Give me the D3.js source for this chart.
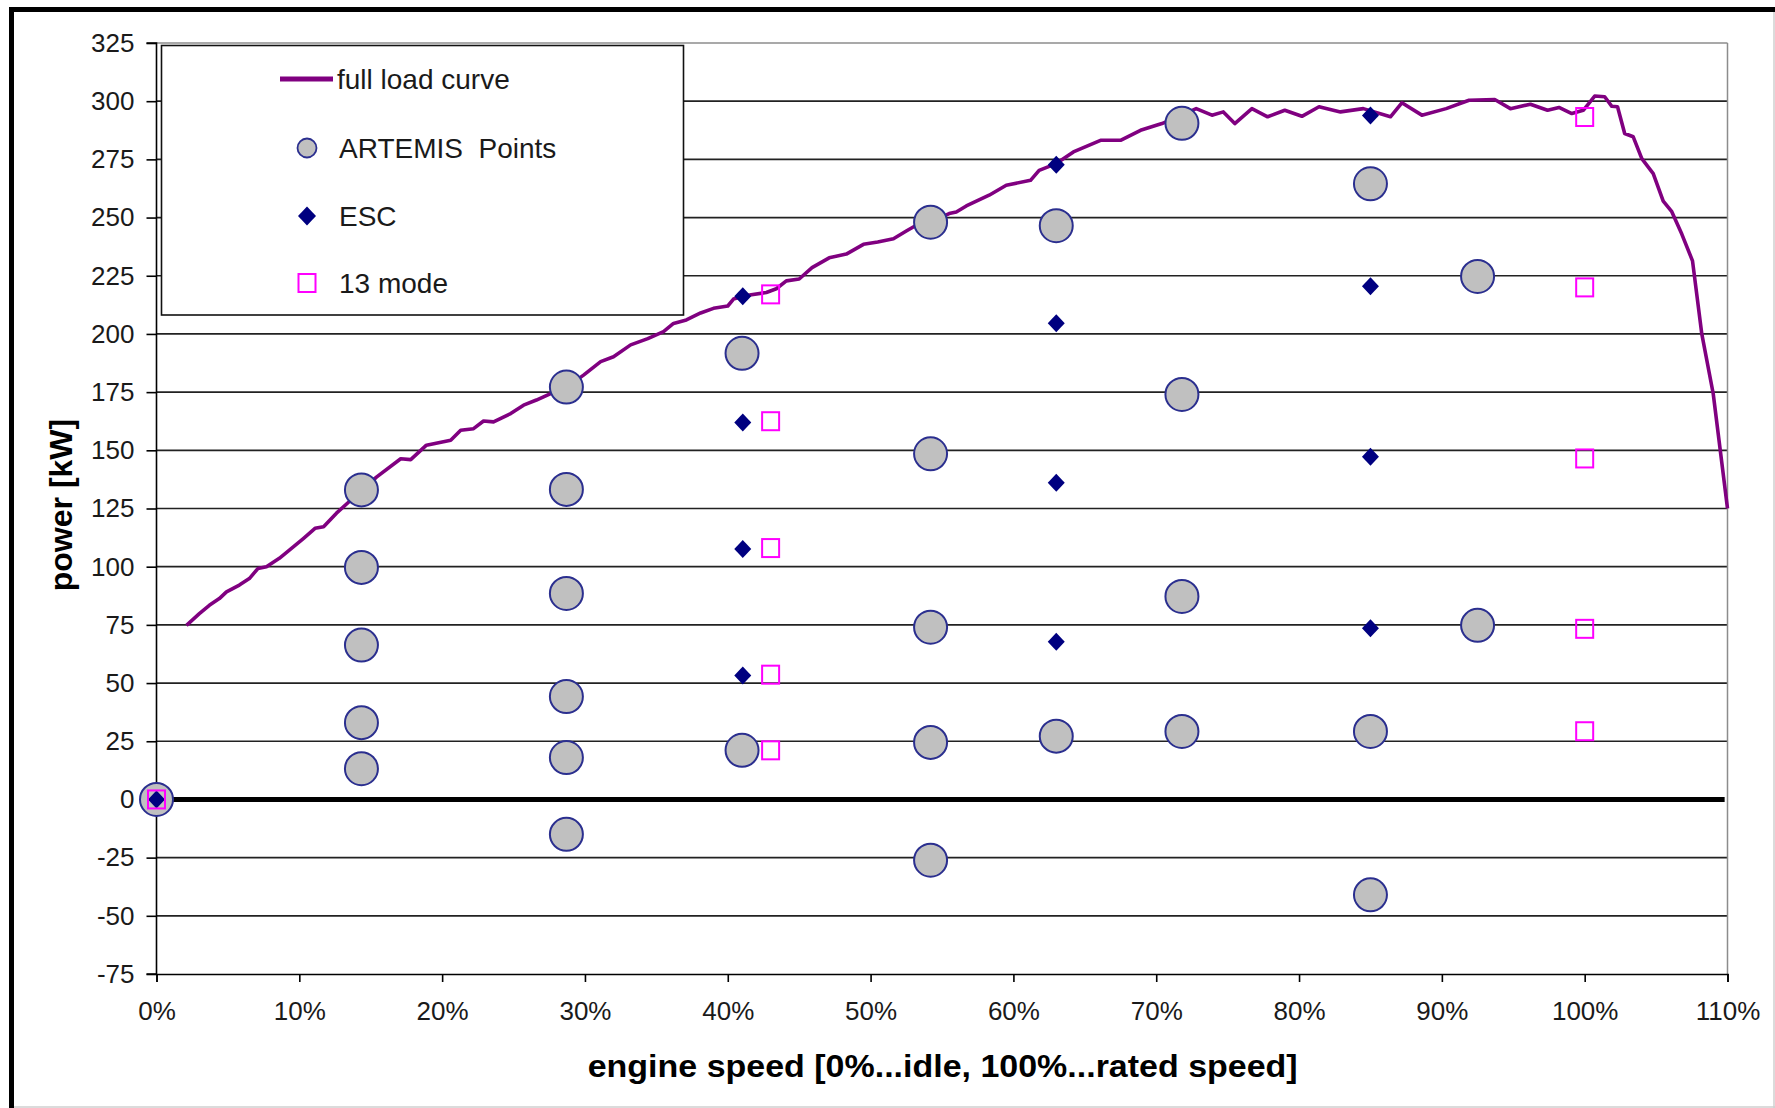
<!DOCTYPE html>
<html>
<head>
<meta charset="utf-8">
<script src="https://cdn.jsdelivr.net/npm/d3@7/dist/d3.min.js"></script>
<style>
  html, body { margin: 0; padding: 0; background: #fff; }
  svg { display: block; font-family: "Liberation Sans", Arial, sans-serif; }
</style>
</head>
<body>
<svg id="chart" width="1775" height="1108"></svg>
<script>
// Full load curve: engine speed [% of rated] vs power [kW]
const curveSpeed = [2.1, 3.0, 3.7, 4.4, 4.9, 5.8, 6.5, 7.1, 7.7, 8.6, 9.6, 10.3, 11.1, 11.7, 12.6, 13.5, 14.7, 15.4,
  17.1, 17.8, 18.9, 20.6, 21.3, 22.2, 22.9, 23.6, 24.8, 25.7, 26.6, 27.6, 28.7, 29.9, 31.1, 32.0, 33.2, 34.4,
  35.5, 36.2, 37.1, 38.1, 39.0, 40.0, 40.4, 41.3, 42.7, 43.4, 44.1, 45.0, 45.9, 47.1, 48.3, 49.5, 50.5, 51.6,
  52.5, 53.2, 54.2, 55.5, 56.0, 56.7, 58.3, 59.5, 61.2, 61.8, 63.0, 64.2, 66.1, 67.5, 68.9, 70.4, 72.8, 73.9,
  74.7, 75.5, 76.7, 77.8, 79.0, 80.2, 81.4, 82.9, 84.5, 86.4, 87.2, 88.6, 90.3, 91.9, 93.7, 94.8, 96.2, 97.4,
  98.2, 99.1, 99.9, 100.7, 101.4, 101.9, 102.3, 102.8, 103.4, 104.0, 104.8, 105.5, 106.1, 106.8, 107.55, 108.2,
  109.0, 110.0];
const curvePower = [74.8, 79.8, 83.4, 86.3, 89.2, 92.1, 94.9, 99.2, 100.0, 103.6, 108.6, 112.2, 116.5, 117.2, 123.0, 128.0, 134.5, 138.5,
  146.4, 146.0, 152.2, 154.3, 158.6, 159.3, 162.6, 162.2, 165.8, 169.4, 171.6, 174.4, 177.0, 182.3, 188.1, 190.2, 195.3, 198.0,
  201.0, 204.5, 206.0, 209.0, 211.0, 212.0, 215.0, 216.5, 217.8, 219.4, 222.8, 223.6, 228.5, 232.7, 234.3, 238.5, 239.5, 240.9,
  244.2, 246.7, 248.0, 251.7, 252.4, 255.0, 259.6, 263.9, 266.0, 270.3, 273.2, 278.2, 283.2, 283.2, 287.5, 290.4, 296.8, 294.0,
  295.4, 290.4, 296.8, 293.3, 296.1, 293.5, 297.6, 295.4, 296.8, 293.3, 299.3, 294.0, 296.8, 300.4, 300.7, 296.8, 298.7, 296.1,
  297.3, 294.7, 296.1, 302.2, 301.9, 297.8, 297.6, 286.1, 284.7, 275.3, 268.9, 257.1, 252.5, 242.9, 231.4, 200.0,
  174.3, 125.0];

// ARTEMIS operating points
const artemisSpeed = [0, 14.35, 14.35, 14.35, 14.35, 14.35, 28.7, 28.7, 28.7, 28.7, 28.7, 28.7, 41.0, 41.0,
  54.2, 54.2, 54.2, 54.2, 54.2, 63.0, 63.0, 71.8, 71.8, 71.8, 71.8, 85.0, 85.0, 85.0, 92.5, 92.5];
const artemisPower = [0, 133.0, 99.7, 66.3, 33.0, 13.2, 177.2, 133.2, 88.5, 44.2, 18.0, -15.0, 191.7, 21.1,
  248.0, 148.5, 74.0, 24.5, -26.1, 246.5, 27.2, 290.5, 174.0, 87.2, 29.2, 264.5, 29.2, -41.0, 224.7, 74.8];

// ESC test modes
const escSpeed = [0, 41.05, 41.05, 41.05, 41.05, 63.0, 63.0, 63.0, 63.0, 85.0, 85.0, 85.0, 85.0];
const escPower = [0, 216.2, 162.0, 107.6, 53.3, 272.7, 204.6, 136.1, 67.7, 293.8, 220.5, 147.2, 73.5];

// 13 mode test
const modeSpeed = [0, 43.0, 43.0, 43.0, 43.0, 43.0, 100, 100, 100, 100, 100];
const modePower = [0, 217.0, 162.5, 108.0, 53.6, 21.1, 293.2, 220.0, 146.5, 73.3, 29.3];

const xTicks = [0, 10, 20, 30, 40, 50, 60, 70, 80, 90, 100, 110];
const yTicks = [-75, -50, -25, 0, 25, 50, 75, 100, 125, 150, 175, 200, 225, 250, 275, 300, 325];

const legendLabels = ["full load curve", "ARTEMIS  Points", "ESC", "13 mode"];

const svg = d3.select("#chart");
const W = 1775, H = 1108;
const plot = { left: 156.5, right: 1727.5, top: 43, bottom: 974 };

const x = d3.scaleLinear().domain([0, 110]).range([plot.left, plot.right]);
const y = d3.scaleLinear().domain([-75, 325]).range([plot.bottom, plot.top]);

svg.append("rect").attr("width", W).attr("height", H).attr("fill", "#fff");

// outer frame: heavy on top/left, light on right/bottom
svg.append("line").attr("x1", 9).attr("x2", W).attr("y1", 9.5).attr("y2", 9.5)
  .attr("stroke", "#000").attr("stroke-width", 5);
svg.append("line").attr("x1", 11.5).attr("x2", 11.5).attr("y1", 7).attr("y2", H)
  .attr("stroke", "#000").attr("stroke-width", 5);
svg.append("line").attr("x1", W - 1).attr("x2", W - 1).attr("y1", 12).attr("y2", H)
  .attr("stroke", "#cfcfcf").attr("stroke-width", 1.5);
svg.append("line").attr("x1", 14).attr("x2", W).attr("y1", H - 1).attr("y2", H - 1)
  .attr("stroke", "#cfcfcf").attr("stroke-width", 1.5);

// horizontal gridlines
const gridVals = yTicks.filter(v => v !== 0 && v !== -75 && v !== 325);
svg.append("g")
  .selectAll("line").data(gridVals).join("line")
  .attr("x1", plot.left).attr("x2", plot.right)
  .attr("y1", d => y(d)).attr("y2", d => y(d))
  .attr("stroke", "#222").attr("stroke-width", 1.7);

// plot area border (top / right)
svg.append("line").attr("x1", plot.left).attr("x2", plot.right).attr("y1", plot.top).attr("y2", plot.top)
  .attr("stroke", "#8c8c8c").attr("stroke-width", 1.5);
svg.append("line").attr("x1", plot.right).attr("x2", plot.right).attr("y1", plot.top).attr("y2", plot.bottom)
  .attr("stroke", "#8c8c8c").attr("stroke-width", 1.5);

// zero line
svg.append("line").attr("x1", x(0)).attr("x2", x(109.8)).attr("y1", y(0)).attr("y2", y(0))
  .attr("stroke", "#000").attr("stroke-width", 5);

// axes
const yAxis = d3.axisLeft(y).tickValues(yTicks).tickSize(10).tickPadding(12).tickFormat(d => String(d));
const gy = svg.append("g").attr("transform", `translate(${plot.left},0)`).call(yAxis);
const xAxis = d3.axisBottom(x).tickValues(xTicks).tickSize(8).tickPadding(20).tickFormat(d => d + "%");
const gx = svg.append("g").attr("transform", `translate(0,${plot.bottom})`).call(xAxis);

[gx, gy].forEach(g => {
  g.select(".domain").attr("stroke", "#000").attr("stroke-width", 1.6);
  g.selectAll(".tick line").attr("stroke", "#000").attr("stroke-width", 1.6);
  g.selectAll(".tick text").attr("fill", "#1a1a1a")
    .style("font-family", '"Liberation Sans", Arial, sans-serif').style("font-size", "26px");
});
gy.select(".domain").attr("d", `M-10,${plot.top}H0V${plot.bottom}H-10`);

// axis titles
svg.append("text")
  .attr("x", 942.7).attr("y", 1077)
  .attr("text-anchor", "middle")
  .attr("textLength", 710).attr("lengthAdjust", "spacingAndGlyphs")
  .style("font-size", "32px").style("font-weight", "bold").attr("fill", "#000")
  .text("engine speed [0%...idle, 100%...rated speed]");
svg.append("text")
  .attr("transform", "translate(72,505) rotate(-90)")
  .attr("text-anchor", "middle")
  .style("font-size", "32px").style("font-weight", "bold").attr("fill", "#000")
  .text("power [kW]");

// full load curve
const curveData = curveSpeed.map((s, i) => [s, curvePower[i]]);
const line = d3.line().x(d => x(d[0])).y(d => y(d[1]));
svg.append("path").datum(curveData)
  .attr("d", line)
  .attr("fill", "none").attr("stroke", "#800080").attr("stroke-width", 3.6)
  .attr("stroke-linejoin", "round");

// marker shapes
const diamondPath = (cx, cy, hw, hh) => `M${cx},${cy - hh}L${cx + hw},${cy}L${cx},${cy + hh}L${cx - hw},${cy}Z`;

svg.append("g").selectAll("circle").data(artemisSpeed.map((s, i) => [s, artemisPower[i]])).join("circle")
  .attr("cx", d => x(d[0])).attr("cy", d => y(d[1])).attr("r", 16.5)
  .attr("fill", "#c0c0c0").attr("stroke", "#2b2f8f").attr("stroke-width", 2);

svg.append("g").selectAll("path").data(escSpeed.map((s, i) => [s, escPower[i]])).join("path")
  .attr("d", d => diamondPath(x(d[0]), y(d[1]), 8.5, 9))
  .attr("fill", "#000080");

svg.append("g").selectAll("rect").data(modeSpeed.map((s, i) => [s, modePower[i]])).join("rect")
  .attr("x", d => x(d[0]) - 8.5).attr("y", d => y(d[1]) - 9)
  .attr("width", 17).attr("height", 18)
  .attr("fill", "none").attr("stroke", "#ff00ff").attr("stroke-width", 2);

// legend
const leg = svg.append("g");
leg.append("rect").attr("x", 161.5).attr("y", 45.5).attr("width", 522).attr("height", 269.5)
  .attr("fill", "#fff").attr("stroke", "#111").attr("stroke-width", 1.6);
const rowY = [79, 148, 216, 283];
leg.append("line").attr("x1", 280).attr("x2", 333).attr("y1", rowY[0]).attr("y2", rowY[0])
  .attr("stroke", "#800080").attr("stroke-width", 5);
leg.append("circle").attr("cx", 307).attr("cy", rowY[1]).attr("r", 9.5)
  .attr("fill", "#c0c0c0").attr("stroke", "#2b2f8f").attr("stroke-width", 1.8);
leg.append("path").attr("d", diamondPath(307, rowY[2], 9, 9.5)).attr("fill", "#000080");
leg.append("rect").attr("x", 298.5).attr("y", rowY[3] - 9).attr("width", 17).attr("height", 18)
  .attr("fill", "none").attr("stroke", "#ff00ff").attr("stroke-width", 2);
leg.selectAll("text.lbl").data(legendLabels).join("text")
  .attr("class", "lbl")
  .attr("x", (d, i) => i === 0 ? 337 : 339)
  .attr("y", (d, i) => rowY[i] + 10)
  .style("font-size", "28px").style("white-space", "pre").attr("fill", "#1a1a1a")
  .text(d => d);
</script>
</body>
</html>
